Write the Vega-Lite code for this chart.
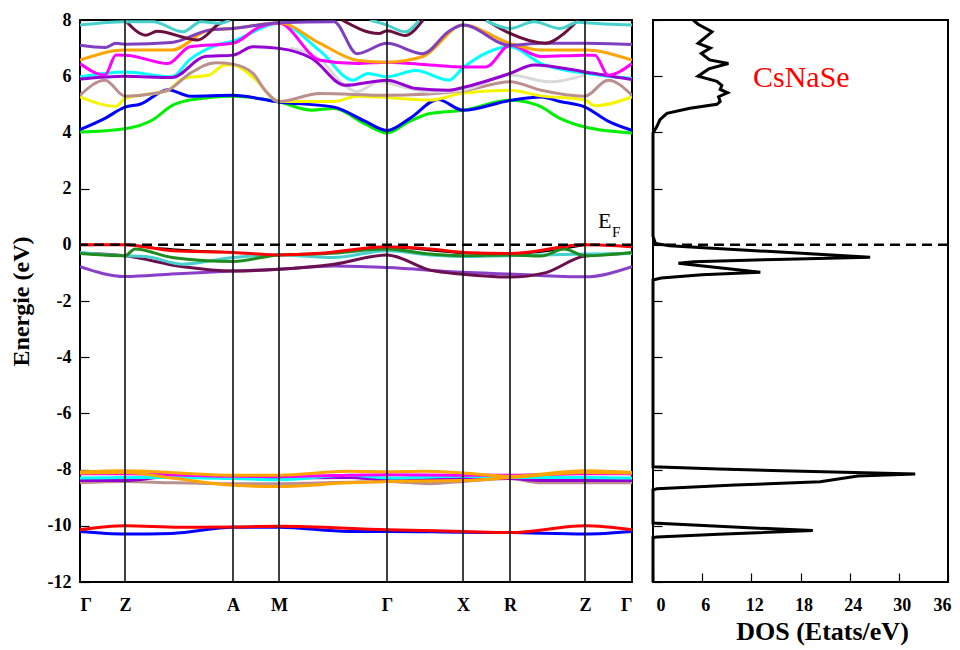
{
"$schema": "https://vega.github.io/schema/vega-lite/v6.json",
"background": "white",
"padding": {"left": 8, "top": 10, "right": 0, "bottom": 5},
"spacing": 21,
"bounds": "flush",
"config": {
  "view": {"stroke": "black", "strokeWidth": 2},
  "axis": {"domain": false, "grid": false, "labelFont": "Liberation Serif", "titleFont": "Liberation Serif", "labelFontWeight": "bold", "titleFontWeight": "bold", "labelColor": "black", "titleColor": "black", "tickColor": "black", "tickWidth": 1.2, "labelFontSize": 18, "titleFontSize": 24}
},
"datasets": {
"kp": [{"k":45},{"k":153},{"k":199},{"k":307},{"k":383},{"k":430},{"k":505}],
"bands": [
{"b":"g","k":0,"e":4.01},{"b":"g","k":45,"e":4.13},{"b":"g","k":73,"e":4.45},{"b":"g","k":92,"e":4.95},{"b":"g","k":110,"e":5.15},{"b":"g","k":153,"e":5.29},{"b":"g","k":199,"e":5.08},{"b":"g","k":232,"e":4.79},{"b":"g","k":254,"e":4.85},{"b":"g","k":285,"e":4.3},{"b":"g","k":307,"e":3.98},{"b":"g","k":330,"e":4.4},{"b":"g","k":350,"e":4.67},{"b":"g","k":383,"e":4.79},{"b":"g","k":430,"e":5.14},{"b":"g","k":458,"e":4.96},{"b":"g","k":480,"e":4.5},{"b":"g","k":505,"e":4.19},{"b":"g","k":552,"e":3.98},
{"b":"b","k":0,"e":4.1},{"b":"b","k":25,"e":4.5},{"b":"b","k":45,"e":4.9},{"b":"b","k":60,"e":5.0},{"b":"b","k":88,"e":5.52},{"b":"b","k":110,"e":5.29},{"b":"b","k":153,"e":5.32},{"b":"b","k":199,"e":5.08},{"b":"b","k":254,"e":4.9},{"b":"b","k":285,"e":4.4},{"b":"b","k":307,"e":4.07},{"b":"b","k":330,"e":4.5},{"b":"b","k":358,"e":5.17},{"b":"b","k":383,"e":4.79},{"b":"b","k":430,"e":5.14},{"b":"b","k":461,"e":5.26},{"b":"b","k":480,"e":5.1},{"b":"b","k":505,"e":4.9},{"b":"b","k":528,"e":4.4},{"b":"b","k":552,"e":4.07},
{"b":"y","k":0,"e":5.26},{"b":"y","k":36,"e":4.93},{"b":"y","k":45,"e":5.2},{"b":"y","k":88,"e":5.5},{"b":"y","k":103,"e":5.92},{"b":"y","k":129,"e":6.04},{"b":"y","k":145,"e":6.4},{"b":"y","k":153,"e":6.4},{"b":"y","k":175,"e":5.9},{"b":"y","k":199,"e":5.1},{"b":"y","k":254,"e":5.1},{"b":"y","k":277,"e":5.29},{"b":"y","k":307,"e":5.24},{"b":"y","k":350,"e":5.15},{"b":"y","k":383,"e":5.4},{"b":"y","k":430,"e":5.5},{"b":"y","k":461,"e":5.3},{"b":"y","k":505,"e":5.15},{"b":"y","k":515,"e":4.95},{"b":"y","k":552,"e":5.26},
{"b":"br","k":0,"e":5.32},{"b":"br","k":25,"e":5.86},{"b":"br","k":45,"e":5.29},{"b":"br","k":77,"e":5.4},{"b":"br","k":88,"e":5.5},{"b":"br","k":110,"e":6.1},{"b":"br","k":136,"e":6.48},{"b":"br","k":153,"e":6.43},{"b":"br","k":173,"e":6.1},{"b":"br","k":185,"e":5.5},{"b":"br","k":199,"e":5.1},{"b":"br","k":240,"e":5.38},{"b":"br","k":307,"e":5.32},{"b":"br","k":383,"e":5.48},{"b":"br","k":430,"e":5.8},{"b":"br","k":461,"e":5.5},{"b":"br","k":505,"e":5.29},{"b":"br","k":528,"e":5.86},{"b":"br","k":552,"e":5.32},
{"b":"gr","k":210,"e":7.0},{"b":"gr","k":240,"e":6.6},{"b":"gr","k":262,"e":5.75},{"b":"gr","k":277,"e":5.45},{"b":"gr","k":299,"e":5.8},{"b":"gr","k":325,"e":5.6},{"b":"gr","k":350,"e":5.44},{"b":"gr","k":383,"e":5.5},{"b":"gr","k":430,"e":6.04},{"b":"gr","k":470,"e":5.8},{"b":"gr","k":505,"e":6.04},
{"b":"c","k":0,"e":5.98},{"b":"c","k":45,"e":6.15},{"b":"c","k":92,"e":5.98},{"b":"c","k":110,"e":6.6},{"b":"c","k":136,"e":7.1},{"b":"c","k":153,"e":7.25},{"b":"c","k":199,"e":7.88},{"b":"c","k":240,"e":6.9},{"b":"c","k":273,"e":5.86},{"b":"c","k":288,"e":6.1},{"b":"c","k":307,"e":5.98},{"b":"c","k":336,"e":6.2},{"b":"c","k":369,"e":5.86},{"b":"c","k":383,"e":6.3},{"b":"c","k":430,"e":7.05},{"b":"c","k":461,"e":6.45},{"b":"c","k":505,"e":6.1},{"b":"c","k":528,"e":6.0},{"b":"c","k":552,"e":5.92},
{"b":"p1","k":0,"e":5.9},{"b":"p1","k":45,"e":6.0},{"b":"p1","k":92,"e":5.95},{"b":"p1","k":125,"e":6.7},{"b":"p1","k":153,"e":6.75},{"b":"p1","k":173,"e":7.05},{"b":"p1","k":199,"e":6.99},{"b":"p1","k":232,"e":6.63},{"b":"p1","k":265,"e":5.68},{"b":"p1","k":307,"e":5.86},{"b":"p1","k":336,"e":5.56},{"b":"p1","k":369,"e":5.5},{"b":"p1","k":383,"e":5.6},{"b":"p1","k":430,"e":6.1},{"b":"p1","k":454,"e":6.4},{"b":"p1","k":505,"e":6.15},{"b":"p1","k":552,"e":5.88},
{"b":"m","k":0,"e":6.45},{"b":"m","k":25,"e":6.04},{"b":"m","k":36,"e":6.75},{"b":"m","k":45,"e":6.75},{"b":"m","k":88,"e":6.45},{"b":"m","k":110,"e":7.05},{"b":"m","k":153,"e":7.17},{"b":"m","k":180,"e":7.76},{"b":"m","k":199,"e":7.88},{"b":"m","k":240,"e":6.57},{"b":"m","k":277,"e":6.45},{"b":"m","k":307,"e":6.5},{"b":"m","k":350,"e":6.4},{"b":"m","k":383,"e":6.33},{"b":"m","k":406,"e":6.33},{"b":"m","k":430,"e":7.1},{"b":"m","k":461,"e":6.7},{"b":"m","k":505,"e":6.75},{"b":"m","k":515,"e":6.75},{"b":"m","k":528,"e":6.04},{"b":"m","k":552,"e":6.45},
{"b":"o","k":0,"e":6.57},{"b":"o","k":45,"e":6.93},{"b":"o","k":92,"e":6.93},{"b":"o","k":129,"e":7.64},{"b":"o","k":153,"e":7.7},{"b":"o","k":199,"e":7.9},{"b":"o","k":240,"e":7.17},{"b":"o","k":277,"e":6.57},{"b":"o","k":307,"e":6.5},{"b":"o","k":343,"e":6.7},{"b":"o","k":383,"e":7.82},{"b":"o","k":430,"e":7.17},{"b":"o","k":461,"e":6.93},{"b":"o","k":505,"e":6.93},{"b":"o","k":552,"e":6.57},
{"b":"p2","k":0,"e":7.1},{"b":"p2","k":25,"e":7.02},{"b":"p2","k":36,"e":7.17},{"b":"p2","k":45,"e":7.14},{"b":"p2","k":92,"e":7.2},{"b":"p2","k":129,"e":7.64},{"b":"p2","k":153,"e":7.7},{"b":"p2","k":199,"e":7.9},{"b":"p2","k":254,"e":7.94},{"b":"p2","k":277,"e":6.8},{"b":"p2","k":307,"e":7.17},{"b":"p2","k":343,"e":6.8},{"b":"p2","k":369,"e":7.6},{"b":"p2","k":383,"e":7.82},{"b":"p2","k":430,"e":7.1},{"b":"p2","k":461,"e":7.17},{"b":"p2","k":505,"e":7.17},{"b":"p2","k":552,"e":7.13},
{"b":"mr1","k":45,"e":8.0},{"b":"mr1","k":66,"e":7.46},{"b":"mr1","k":77,"e":7.6},{"b":"mr1","k":118,"e":7.29},{"b":"mr1","k":140,"e":7.88},{"b":"mr1","k":150,"e":8.0},
{"b":"mr2","k":262,"e":8.0},{"b":"mr2","k":299,"e":7.52},{"b":"mr2","k":307,"e":7.62},{"b":"mr2","k":325,"e":7.45},{"b":"mr2","k":343,"e":8.0},
{"b":"mr3","k":406,"e":8.0},{"b":"mr3","k":430,"e":7.52},{"b":"mr3","k":465,"e":7.17},{"b":"mr3","k":484,"e":7.52},{"b":"mr3","k":498,"e":8.0},
{"b":"t1","k":0,"e":7.82},{"b":"t1","k":45,"e":7.94},{"b":"t1","k":73,"e":7.94},{"b":"t1","k":103,"e":7.58},{"b":"t1","k":121,"e":7.94},{"b":"t1","k":140,"e":7.88},{"b":"t1","k":150,"e":8.0},
{"b":"t2","k":290,"e":8.0},{"b":"t2","k":307,"e":7.82},{"b":"t2","k":325,"e":7.58},{"b":"t2","k":339,"e":7.98},
{"b":"t3","k":406,"e":7.98},{"b":"t3","k":430,"e":7.7},{"b":"t3","k":454,"e":7.94},{"b":"t3","k":480,"e":7.7},{"b":"t3","k":498,"e":7.92},{"b":"t3","k":505,"e":7.9},{"b":"t3","k":552,"e":7.82},
{"b":"vp","k":0,"e":-0.78},{"b":"vp","k":45,"e":-1.13},{"b":"vp","k":92,"e":-1.04},{"b":"vp","k":153,"e":-0.93},{"b":"vp","k":199,"e":-0.87},{"b":"vp","k":254,"e":-0.75},{"b":"vp","k":307,"e":-0.81},{"b":"vp","k":383,"e":-0.98},{"b":"vp","k":430,"e":-1.04},{"b":"vp","k":505,"e":-1.14},{"b":"vp","k":552,"e":-0.78},
{"b":"vm","k":0,"e":-0.3},{"b":"vm","k":45,"e":-0.39},{"b":"vm","k":103,"e":-0.78},{"b":"vm","k":153,"e":-0.93},{"b":"vm","k":199,"e":-0.87},{"b":"vm","k":254,"e":-0.69},{"b":"vm","k":307,"e":-0.36},{"b":"vm","k":350,"e":-0.9},{"b":"vm","k":383,"e":-1.05},{"b":"vm","k":430,"e":-1.15},{"b":"vm","k":465,"e":-1.0},{"b":"vm","k":505,"e":-0.4},{"b":"vm","k":552,"e":-0.3},
{"b":"vt","k":0,"e":-0.27},{"b":"vt","k":45,"e":-0.39},{"b":"vt","k":66,"e":-0.42},{"b":"vt","k":103,"e":-0.69},{"b":"vt","k":153,"e":-0.45},{"b":"vt","k":199,"e":-0.36},{"b":"vt","k":254,"e":-0.45},{"b":"vt","k":307,"e":-0.21},{"b":"vt","k":350,"e":-0.36},{"b":"vt","k":383,"e":-0.42},{"b":"vt","k":430,"e":-0.39},{"b":"vt","k":505,"e":-0.33},{"b":"vt","k":552,"e":-0.31},
{"b":"vg","k":0,"e":-0.31},{"b":"vg","k":45,"e":-0.39},{"b":"vg","k":55,"e":-0.15},{"b":"vg","k":92,"e":-0.45},{"b":"vg","k":153,"e":-0.59},{"b":"vg","k":199,"e":-0.36},{"b":"vg","k":247,"e":-0.31},{"b":"vg","k":307,"e":-0.15},{"b":"vg","k":350,"e":-0.33},{"b":"vg","k":383,"e":-0.39},{"b":"vg","k":430,"e":-0.36},{"b":"vg","k":461,"e":-0.4},{"b":"vg","k":484,"e":-0.15},{"b":"vg","k":505,"e":-0.39},{"b":"vg","k":552,"e":-0.27},
{"b":"vr","k":0,"e":0},{"b":"vr","k":45,"e":0},{"b":"vr","k":92,"e":-0.21},{"b":"vr","k":153,"e":-0.27},{"b":"vr","k":199,"e":-0.36},{"b":"vr","k":240,"e":-0.3},{"b":"vr","k":307,"e":-0.07},{"b":"vr","k":350,"e":-0.15},{"b":"vr","k":383,"e":-0.27},{"b":"vr","k":430,"e":-0.31},{"b":"vr","k":505,"e":0},{"b":"vr","k":552,"e":-0.07},
{"b":"db","k":0,"e":-8.47},{"b":"db","k":45,"e":-8.42},{"b":"db","k":92,"e":-8.47},{"b":"db","k":153,"e":-8.5},{"b":"db","k":199,"e":-8.5},{"b":"db","k":307,"e":-8.42},{"b":"db","k":350,"e":-8.5},{"b":"db","k":383,"e":-8.42},{"b":"db","k":430,"e":-8.32},{"b":"db","k":461,"e":-8.47},{"b":"db","k":505,"e":-8.47},{"b":"db","k":552,"e":-8.47},
{"b":"dp","k":0,"e":-8.39},{"b":"dp","k":45,"e":-8.39},{"b":"dp","k":92,"e":-8.24},{"b":"dp","k":153,"e":-8.28},{"b":"dp","k":199,"e":-8.3},{"b":"dp","k":269,"e":-8.28},{"b":"dp","k":307,"e":-8.36},{"b":"dp","k":383,"e":-8.3},{"b":"dp","k":430,"e":-8.32},{"b":"dp","k":461,"e":-8.39},{"b":"dp","k":505,"e":-8.39},{"b":"dp","k":552,"e":-8.39},
{"b":"dc","k":0,"e":-8.3},{"b":"dc","k":45,"e":-8.28},{"b":"dc","k":92,"e":-8.28},{"b":"dc","k":153,"e":-8.32},{"b":"dc","k":199,"e":-8.36},{"b":"dc","k":269,"e":-8.2},{"b":"dc","k":307,"e":-8.3},{"b":"dc","k":383,"e":-8.24},{"b":"dc","k":430,"e":-8.28},{"b":"dc","k":505,"e":-8.28},{"b":"dc","k":552,"e":-8.3},
{"b":"dm","k":0,"e":-8.15},{"b":"dm","k":45,"e":-8.15},{"b":"dm","k":153,"e":-8.24},{"b":"dm","k":199,"e":-8.24},{"b":"dm","k":307,"e":-8.18},{"b":"dm","k":383,"e":-8.2},{"b":"dm","k":430,"e":-8.2},{"b":"dm","k":505,"e":-8.15},{"b":"dm","k":552,"e":-8.15},
{"b":"do2","k":0,"e":-8.12},{"b":"do2","k":45,"e":-8.1},{"b":"do2","k":92,"e":-8.3},{"b":"do2","k":153,"e":-8.56},{"b":"do2","k":199,"e":-8.6},{"b":"do2","k":269,"e":-8.47},{"b":"do2","k":307,"e":-8.42},{"b":"do2","k":383,"e":-8.39},{"b":"do2","k":430,"e":-8.28},{"b":"do2","k":505,"e":-8.1},{"b":"do2","k":552,"e":-8.12},
{"b":"do1","k":0,"e":-8.08},{"b":"do1","k":45,"e":-8.04},{"b":"do1","k":153,"e":-8.2},{"b":"do1","k":199,"e":-8.2},{"b":"do1","k":269,"e":-8.06},{"b":"do1","k":307,"e":-8.08},{"b":"do1","k":343,"e":-8.06},{"b":"do1","k":383,"e":-8.12},{"b":"do1","k":430,"e":-8.24},{"b":"do1","k":505,"e":-8.04},{"b":"do1","k":552,"e":-8.1},
{"b":"dbl","k":0,"e":-10.2},{"b":"dbl","k":45,"e":-10.29},{"b":"dbl","k":92,"e":-10.27},{"b":"dbl","k":153,"e":-10.05},{"b":"dbl","k":199,"e":-10.05},{"b":"dbl","k":269,"e":-10.2},{"b":"dbl","k":307,"e":-10.2},{"b":"dbl","k":383,"e":-10.23},{"b":"dbl","k":430,"e":-10.24},{"b":"dbl","k":505,"e":-10.29},{"b":"dbl","k":552,"e":-10.2},
{"b":"dr","k":0,"e":-10.14},{"b":"dr","k":45,"e":-10.0},{"b":"dr","k":100,"e":-10.05},{"b":"dr","k":153,"e":-10.04},{"b":"dr","k":199,"e":-10.02},{"b":"dr","k":307,"e":-10.14},{"b":"dr","k":383,"e":-10.2},{"b":"dr","k":430,"e":-10.24},{"b":"dr","k":505,"e":-10.0},{"b":"dr","k":552,"e":-10.14}
],
"vk": [{"k":45,"e":-0.02},{"k":92,"e":-0.15},{"k":153,"e":-0.27},{"k":199,"e":-0.36},{"k":240,"e":-0.3},{"k":307,"e":-0.1},{"k":383,"e":-0.3},{"k":430,"e":-0.33},{"k":505,"e":-0.02}],
"dos": [
{"i":1,"d":4.9,"e":8.0},{"i":2,"d":5.5,"e":7.85},{"i":3,"d":7.2,"e":7.58},{"i":4,"d":5.5,"e":7.17},{"i":5,"d":7.0,"e":7.0},{"i":6,"d":5.9,"e":6.81},{"i":7,"d":6.9,"e":6.58},{"i":8,"d":9.2,"e":6.45},{"i":9,"d":6.8,"e":6.26},{"i":10,"d":5.5,"e":6.0},{"i":11,"d":7.8,"e":5.82},{"i":12,"d":8.4,"e":5.67},{"i":13,"d":8.2,"e":5.53},{"i":14,"d":9.1,"e":5.41},{"i":15,"d":8.0,"e":5.27},{"i":16,"d":8.2,"e":5.1},{"i":17,"d":7.8,"e":5.0},{"i":18,"d":4.5,"e":4.86},{"i":19,"d":1.7,"e":4.68},{"i":20,"d":0.85,"e":4.45},{"i":21,"d":0.45,"e":4.2},{"i":22,"d":0,"e":3.98},{"i":23,"d":0,"e":0.3},{"i":24,"d":0.3,"e":0.05},{"i":25,"d":2,"e":-0.03},{"i":26,"d":15,"e":-0.25},{"i":27,"d":26.5,"e":-0.44},{"i":28,"d":15,"e":-0.52},{"i":29,"d":5,"e":-0.6},{"i":30,"d":3.1,"e":-0.66},{"i":31,"d":5,"e":-0.72},{"i":32,"d":13.1,"e":-0.98},{"i":33,"d":6,"e":-1.07},{"i":34,"d":1,"e":-1.18},{"i":35,"d":0,"e":-1.25},{"i":36,"d":0,"e":-7.9},{"i":37,"d":8,"e":-7.98},{"i":38,"d":32,"e":-8.16},{"i":39,"d":25,"e":-8.23},{"i":40,"d":20.4,"e":-8.43},{"i":41,"d":10,"e":-8.55},{"i":42,"d":0.5,"e":-8.68},{"i":43,"d":0,"e":-8.72},{"i":44,"d":0,"e":-9.9},{"i":45,"d":8,"e":-10.02},{"i":46,"d":19.5,"e":-10.17},{"i":47,"d":8,"e":-10.3},{"i":48,"d":0.5,"e":-10.4},{"i":49,"d":0,"e":-10.42},{"i":50,"d":0,"e":-12}
],
"efE": [{"t":"E","k":518,"e":0.6}],
"efF": [{"t":"F","k":532,"e":0.28}],
"lab": [{"t":"CsNaSe","d":18.1,"e":5.62}]
},
"hconcat": [
{
  "width": 552, "height": 562,
  "layer": [
    {"data": {"name": "vk"}, "mark": {"type": "line", "interpolate": "monotone", "color": "black", "strokeWidth": 1.5, "clip": true},
     "encoding": {
       "x": {"field": "k", "type": "quantitative", "scale": {"domain": [0, 552], "nice": false, "zero": false},
             "axis": {"values": [0,45,153,199,307,383,430,505,552], "labelExpr": "datum.value==0||datum.value==307||datum.value==552 ? 'Γ' : datum.value==45||datum.value==505 ? 'Z' : datum.value==153 ? 'A' : datum.value==199 ? 'M' : datum.value==383 ? 'X' : 'R'", "ticks": false, "title": null, "labelPadding": 14, "labelFontSize": 18}},
       "y": {"field": "e", "type": "quantitative", "scale": {"domain": [-12, 8], "nice": false, "zero": false},
             "axis": {"values": [-12,-11,-10,-9,-8,-7,-6,-5,-4,-3,-2,-1,0,1,2,3,4,5,6,7,8], "labelExpr": "datum.value % 2 === 0 ? '' + datum.value : ''", "tickSize": -9, "labelPadding": 18, "title": "Energie (eV)", "titlePadding": 14}}
     }},
    {"data": {"name": "bands"}, "mark": {"type": "line", "interpolate": "monotone", "strokeWidth": 3, "clip": true},
     "encoding": {
       "x": {"field": "k", "type": "quantitative"},
       "y": {"field": "e", "type": "quantitative"},
       "color": {"field": "b", "type": "nominal", "legend": null,
         "scale": {"domain": ["g","b","y","br","gr","c","p1","m","o","p2","mr1","mr2","mr3","t1","t2","t3","vp","vm","vt","vg","vr","db","dp","dc","dm","do2","do1","dbl","dr"],
                   "range": ["#00ee00","#0000ff","#f5f500","#bc8f8f","#d9d9d9","#00ffff","#9400d3","#ff00ff","#ffa500","#7f3fc0","#6b0f3f","#6b0f3f","#6b0f3f","#48d1cc","#48d1cc","#48d1cc","#8a3fc8","#6b0f4f","#48d1cc","#1e8c1e","#ff0000","#bc8f8f","#9400d3","#00ffff","#ff00ff","#ffa500","#ffa500","#0000ff","#ff0000"]}}
     }},
    {"data": {"name": "kp"}, "mark": {"type": "rule", "color": "black", "strokeWidth": 1.5},
     "encoding": {"x": {"field": "k", "type": "quantitative"}}},
    {"data": {"values": [{"z": 0}]}, "mark": {"type": "rule", "color": "black", "strokeWidth": 2.5, "strokeDash": [10, 6]},
     "encoding": {"y": {"field": "z", "type": "quantitative"}}},
    {"data": {"name": "efE"}, "mark": {"type": "text", "font": "Liberation Serif", "fontSize": 22, "align": "left", "baseline": "alphabetic", "color": "black"},
     "encoding": {"x": {"field": "k", "type": "quantitative"}, "y": {"field": "e", "type": "quantitative"}, "text": {"field": "t"}}},
    {"data": {"name": "efF"}, "mark": {"type": "text", "font": "Liberation Serif", "fontSize": 15, "align": "left", "baseline": "alphabetic", "color": "black"},
     "encoding": {"x": {"field": "k", "type": "quantitative"}, "y": {"field": "e", "type": "quantitative"}, "text": {"field": "t"}}}
  ]
},
{
  "width": 295, "height": 562,
  "layer": [
    {"data": {"name": "dos"}, "mark": {"type": "line", "color": "black", "strokeWidth": 3},
     "encoding": {
       "x": {"field": "d", "type": "quantitative", "scale": {"domain": [0, 36], "nice": false, "zero": false},
             "axis": {"values": [0,3,6,9,12,15,18,21,24,27,30,33,36], "labelExpr": "datum.value % 6 === 0 ? '' + datum.value : ''", "tickSize": -9, "labelPadding": 23, "labelOffset": 3, "title": "DOS (Etats/eV)", "titleFontSize": 26, "titlePadding": 4, "titleX": 169, "titleAnchor": null, "titleAlign": "center"}},
       "y": {"field": "e", "type": "quantitative", "scale": {"domain": [-12, 8], "nice": false, "zero": false},
             "axis": {"values": [-12,-11,-10,-9,-8,-7,-6,-5,-4,-3,-2,-1,0,1,2,3,4,5,6,7,8], "labels": false, "tickSize": -9, "title": null}},
       "order": {"field": "i", "type": "quantitative"}
     }},
    {"data": {"values": [{"z": 0}]}, "mark": {"type": "rule", "color": "black", "strokeWidth": 2.5, "strokeDash": [10, 6]},
     "encoding": {"y": {"field": "z", "type": "quantitative"}}},
    {"data": {"name": "lab"}, "mark": {"type": "text", "font": "Liberation Serif", "fontSize": 30, "align": "center", "baseline": "alphabetic", "color": "#ff0000"},
     "encoding": {"x": {"field": "d", "type": "quantitative"}, "y": {"field": "e", "type": "quantitative"}, "text": {"field": "t"}}}
  ]
}
]
}
